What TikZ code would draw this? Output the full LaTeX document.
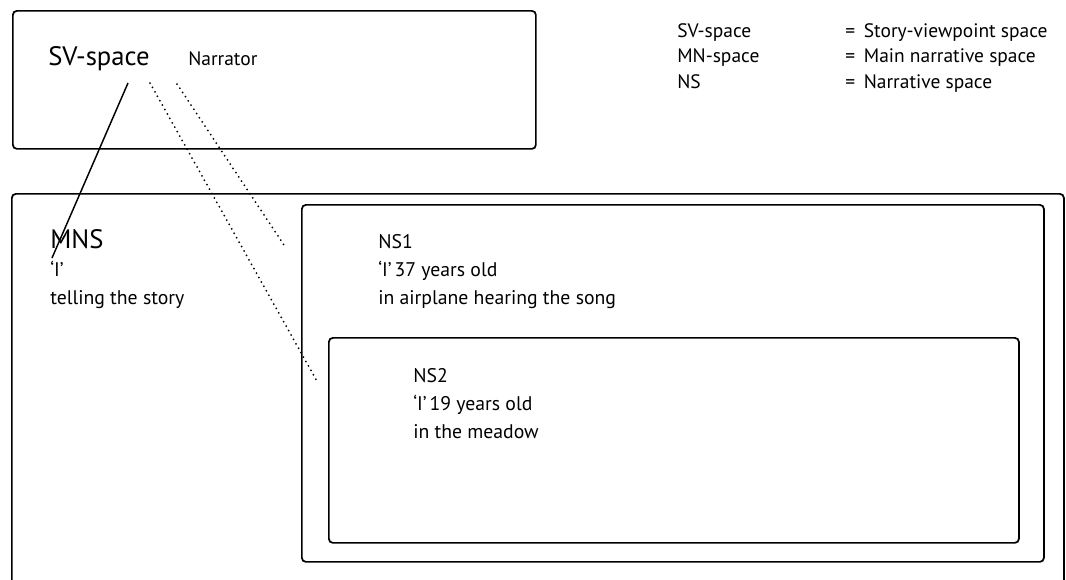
\documentclass[tikz,border=0pt]{standalone}
\usepackage{fontspec}
\setmainfont{PT Sans}
\begin{document}
\begin{tikzpicture}[x=0.75pt,y=-0.75pt,
  box/.style={draw,line width=1.3pt,rounded corners=3pt,anchor=north west,inner sep=0pt},
  txt/.style={anchor=base west,inner sep=0pt,font=\fontsize{14.8}{17}\selectfont},
  big/.style={anchor=base west,inner sep=0pt,font=\fontsize{20}{24}\selectfont},
  small/.style={anchor=base west,inner sep=0pt,font=\fontsize{14.6}{17}\selectfont},
  solidline/.style={line width=1.1pt},
  dotline/.style={line width=1.5pt,line cap=round,dash pattern=on 0pt off 3.8pt},
]
\useasboundingbox (0,0) rectangle (1066,579);
\clip (0,0) rectangle (1066,579);

% boxes
\node[box,minimum width=392.25pt,minimum height=103.5pt] (sv) at (12,10) {};
\node[box,minimum width=789pt,minimum height=300pt] (mns) at (11,193) {};
\node[box,minimum width=556.5pt,minimum height=267.75pt] (ns1) at (301,204) {};
\node[box,minimum width=517.5pt,minimum height=153.75pt] (ns2) at (328,337) {};

% SV-space box texts
\node[big] (svt) at (48,65) {SV-space};
\node[small] (nar) at (188,65) {Narrator};

% legend
\node[small] (l1a) at (677,37) {SV-space};
\node[small] (l2a) at (677,62) {MN-space};
\node[small] (l3a) at (677,88) {NS};
\node[small] (l1b) at (845,37) {=\hspace{0.45em}Story-viewpoint space};
\node[small] (l2b) at (845,62) {=\hspace{0.45em}Main narrative space};
\node[small] (l3b) at (845,88) {=\hspace{0.45em}Narrative space};

% MNS texts
\node[big] (mnst) at (50,248) {MNS};
\node[txt] (mi) at (50,276) {‘I’};
\node[txt] (mtell) at (50,304) {telling the story};

% NS1 texts
\node[txt] (n1t) at (378,248) {NS1};
\node[txt] (n1a) at (378,276) {‘I’\hspace{0.15em}37 years old};
\node[txt] (n1b) at (378,304) {in airplane hearing the song};

% NS2 texts
\node[txt] (n2t) at (413,382) {NS2};
\node[txt] (n2a) at (413,410) {‘I’\hspace{0.15em}19 years old};
\node[txt] (n2b) at (413,438) {in the meadow};

% connectors
\coordinate (a1) at (128,83);
\coordinate (b1) at (52,258);
\coordinate (a2) at (150,83);
\coordinate (b2) at (318,383);
\coordinate (a3) at (177,84);
\coordinate (b3) at (284,245);
\draw[solidline] (a1) -- (b1);
\draw[dotline] (a2) -- (b2);
\draw[dotline] (a3) -- (b3);
\end{tikzpicture}
\end{document}
